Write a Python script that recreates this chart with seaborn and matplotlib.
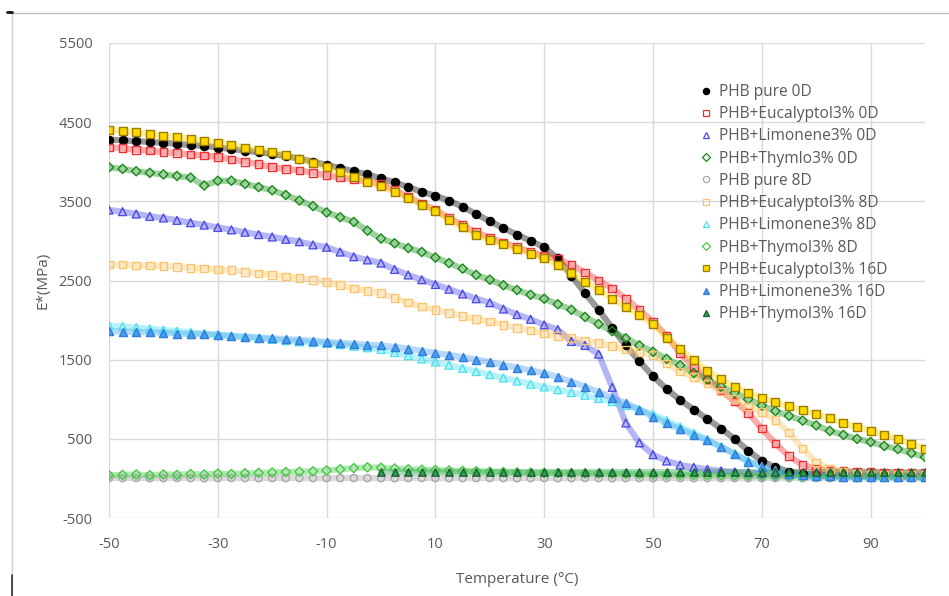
import numpy as np
import pandas as pd
import matplotlib
matplotlib.use("Agg")
import matplotlib.pyplot as plt
from matplotlib.lines import Line2D
import seaborn as sns

# ======================================================
# data (every 2.5 °C)
# ======================================================
temp = np.arange(-50, 100.1, 2.5)
temp_from0 = np.arange(0, 100.1, 2.5)

pure_0d = [4280, 4270, 4260, 4250, 4240, 4225, 4210, 4200, 4180, 4160,
           4140, 4120, 4100, 4070, 4040, 4000, 3960, 3920, 3880, 3840,
           3790, 3740, 3680, 3620, 3570, 3510, 3430, 3340, 3250, 3160,
           3080, 3000, 2920, 2780, 2560, 2340, 2130, 1900, 1680, 1480,
           1290, 1130, 990, 870, 750, 630, 500, 350, 220, 140,
           85, 60, 48, 42, 38, 35, 33, 32, 31, 30, 30]
eucal_0d = [4180, 4170, 4150, 4140, 4120, 4110, 4090, 4080, 4060, 4030,
            4000, 3970, 3930, 3910, 3890, 3860, 3830, 3800, 3780, 3750,
            3720, 3640, 3560, 3470, 3390, 3290, 3200, 3110, 3040, 2980,
            2920, 2860, 2810, 2770, 2700, 2600, 2500, 2400, 2270, 2130,
            1980, 1800, 1580, 1400, 1250, 1110, 970, 830, 630, 440,
            280, 170, 120, 100, 90, 85, 80, 75, 70, 68, 65]
limon_0d = [3390, 3370, 3340, 3310, 3290, 3260, 3230, 3200, 3170, 3140,
            3110, 3080, 3050, 3020, 2990, 2950, 2920, 2860, 2800, 2760,
            2720, 2640, 2570, 2510, 2450, 2390, 2330, 2270, 2220, 2140,
            2070, 2010, 1940, 1880, 1730, 1680, 1570, 1150, 700, 450,
            300, 220, 170, 140, 115, 95, 80, 70, 60, 55,
            50, 45, 42, 40, 38, 36, 35, 34, 33, 32, 30]
thymol_0d = [3930, 3910, 3880, 3860, 3840, 3820, 3800, 3700, 3760, 3760,
             3720, 3680, 3640, 3580, 3510, 3440, 3360, 3300, 3240, 3130,
             3030, 2970, 2910, 2860, 2790, 2720, 2650, 2570, 2510, 2440,
             2380, 2320, 2270, 2200, 2130, 2040, 1950, 1860, 1770, 1680,
             1600, 1510, 1430, 1330, 1250, 1160, 1080, 1000, 920, 850,
             790, 730, 670, 600, 550, 500, 460, 410, 370, 320, 270]
pure_8d = [5, 4, 5, 3, 4, 5, 4, 3, 4, 5,
           4, 3, 4, 4, 5, 4, 3, 4, 5, 4,
           4, 3, 4, 5, 4, 3, 4, 4, 5, 4,
           3, 4, 4, 3, 4, 5, 4, 3, 4, 4,
           3, 4, 4, 3, 4, 3, 4, 3, 3, 4,
           3, 3, 4, 3, 3, 2, 3, 3, 2, 3, 2]
eucal_8d = [2700, 2700, 2690, 2690, 2680, 2670, 2660, 2650, 2640, 2630,
            2610, 2590, 2570, 2550, 2530, 2510, 2480, 2440, 2400, 2370,
            2340, 2280, 2220, 2170, 2130, 2090, 2050, 2010, 1980, 1940,
            1900, 1870, 1830, 1800, 1770, 1740, 1710, 1670, 1630, 1600,
            1560, 1450, 1350, 1280, 1200, 1100, 1000, 910, 840, 740,
            580, 380, 200, 120, 80, 60, 50, 45, 42, 40, 40]
limon_8d = [1930, 1920, 1905, 1890, 1875, 1860, 1845, 1830, 1815, 1800,
            1785, 1770, 1755, 1740, 1725, 1715, 1705, 1690, 1670, 1650,
            1630, 1590, 1550, 1510, 1470, 1430, 1390, 1350, 1310, 1270,
            1230, 1190, 1155, 1120, 1085, 1050, 1010, 970, 920, 870,
            810, 730, 650, 570, 490, 400, 310, 220, 150, 100,
            65, 45, 35, 30, 28, 26, 25, 24, 23, 22, 20]
thymol_8d = [40, 45, 50, 40, 50, 45, 55, 50, 60, 55,
             65, 70, 75, 80, 85, 90, 100, 115, 130, 140,
             135, 125, 115, 110, 105, 100, 95, 90, 85, 80,
             75, 72, 70, 68, 65, 62, 60, 58, 55, 52,
             50, 48, 45, 43, 40, 38, 36, 34, 32, 30,
             29, 28, 27, 26, 25, 24, 23, 22, 21, 20, 20]
eucal_16d = [4400, 4390, 4370, 4350, 4330, 4310, 4290, 4260, 4240, 4210,
             4180, 4150, 4120, 4080, 4040, 3990, 3930, 3870, 3810, 3750,
             3690, 3620, 3540, 3460, 3380, 3270, 3170, 3080, 3010, 2960,
             2900, 2840, 2780, 2700, 2600, 2480, 2380, 2270, 2160, 2060,
             1950, 1780, 1630, 1490, 1360, 1250, 1160, 1080, 1020, 960,
             910, 860, 810, 760, 700, 650, 600, 550, 500, 440, 370]
limon_16d = [1860, 1855, 1850, 1845, 1840, 1830, 1825, 1820, 1812, 1800,
             1790, 1780, 1770, 1760, 1750, 1738, 1725, 1712, 1700, 1690,
             1680, 1660, 1640, 1610, 1585, 1560, 1530, 1500, 1470, 1430,
             1400, 1365, 1330, 1280, 1220, 1160, 1090, 1020, 950, 870,
             780, 700, 620, 550, 480, 400, 310, 210, 150, 100,
             60, 40, 30, 25, 22, 20, 18, 16, 15, 14, 12]
thymol_16d = [85, 82, 80, 82, 80, 81, 80, 79, 80, 81,
              80, 79, 80, 80, 79, 80, 81, 80, 79, 80,
              80, 79, 80, 80, 79, 80, 80, 79, 80, 80,
              79, 80, 80, 79, 80, 80, 79, 80, 80, 79, 80]

labels = ["PHB pure 0D", "PHB+Eucalyptol3% 0D", "PHB+Limonene3% 0D", "PHB+Thymlo3% 0D",
          "PHB pure 8D", "PHB+Eucalyptol3% 8D", "PHB+Limonene3% 8D", "PHB+Thymol3% 8D",
          "PHB+Eucalyptol3% 16D", "PHB+Limonene3% 16D", "PHB+Thymol3% 16D"]

# (x, y, edge colour, face colour, marker, size)
series = [
    (temp, pure_0d, "#000000", "#000000", "o", 34),
    (temp, eucal_0d, "#f03030", "none", "s", 30),
    (temp, limon_0d, "#4a4ae6", "none", "^", 32),
    (temp, thymol_0d, "#138a13", "none", "D", 22),
    (temp, pure_8d, "#a6a6a6", "none", "o", 26),
    (temp, eucal_8d, "#f9c46b", "none", "s", 30),
    (temp, limon_8d, "#4fe0f2", "none", "^", 32),
    (temp, thymol_8d, "#45c845", "none", "D", 22),
    (temp, eucal_16d, "#9c7d00", "#ffd700", "s", 36),
    (temp, limon_16d, "#2f7fd8", "#4a9cf0", "^", 34),
    (temp_from0, thymol_16d, "#1d5e2a", "#2ea05a", "^", 28),
]

# ======================================================
# figure
# ======================================================
sns.set_theme(style="white")
plt.rcParams["font.family"] = ["Open Sans", "DejaVu Sans"]
plt.rcParams["axes.unicode_minus"] = False
TXT = "#595959"

fig = plt.figure(figsize=(9.49, 5.96), dpi=100)
ax = fig.add_axes([109 / 949, 1 - 518 / 596, 816 / 949, 475 / 596])

handles = []
for (x, y, ec, fc, mk, s), lab in zip(series, labels):
    band = ec if fc == "none" else fc
    # dense measurement points read as a band: thick translucent trace underneath
    sns.lineplot(x=x, y=y, color=band, lw=4.5, alpha=0.4,
                 ax=ax, legend=False, zorder=2)
    sns.scatterplot(x=x, y=y, marker=mk, s=s, facecolor=fc, edgecolor=ec,
                    linewidth=1.0, ax=ax, legend=False, zorder=3)
    handles.append(Line2D([], [], ls="", marker=mk, markersize=4.5 if mk != "D" else 3.6,
                          markerfacecolor=fc, markeredgecolor=ec, markeredgewidth=0.9))

ax.set_xlim(-50, 100)
ax.set_ylim(-500, 5500)
ax.set_xticks(range(-50, 91, 20))
ax.set_yticks(range(-500, 5501, 1000))
ax.grid(True, color="#d9d9d9", lw=1)
for sp in ax.spines.values():
    sp.set_visible(False)
ax.tick_params(length=0, labelsize=10.5, labelcolor=TXT)
ax.tick_params(axis="y", pad=12)
ax.tick_params(axis="x", pad=14)
ax.set_xlabel("Temperature (°C)", fontsize=11, color=TXT, labelpad=14)
ax.set_ylabel("E*(MPa)", fontsize=11, color=TXT, labelpad=6)

ax.legend(handles, labels, loc="upper left", bbox_to_anchor=(700 / 949, 1 - 84 / 596),
          bbox_transform=fig.transFigure, frameon=False, fontsize=11.2, labelcolor=TXT,
          handlelength=0.8, handletextpad=0.4, labelspacing=0.40, borderpad=0,
          borderaxespad=0)

# chart-area border bits
fig.add_artist(Line2D([10 / 949, 1], [1 - 13 / 596] * 2, color="#bfbfbf", lw=1,
                      transform=fig.transFigure))
fig.add_artist(Line2D([12 / 949] * 2, [0, 1 - 13 / 596], color="#d0d0d0", lw=1,
                      transform=fig.transFigure))
fig.add_artist(Line2D([12 / 949] * 2, [0, 1 - 575 / 596], color="#333333", lw=1.2,
                      transform=fig.transFigure))
fig.add_artist(Line2D([7 / 949, 12 / 949], [1 - 12 / 596] * 2, color="#111111", lw=2,
                      transform=fig.transFigure))

fig.savefig("out.png", dpi=100)
